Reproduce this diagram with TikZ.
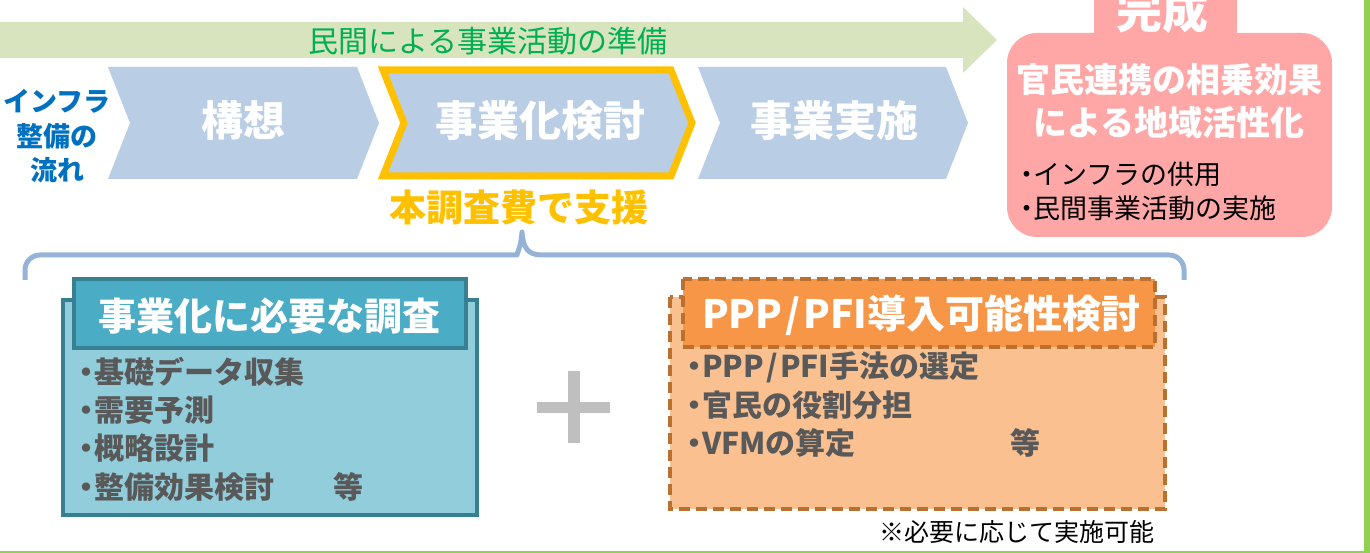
\documentclass[tikz,border=0pt]{standalone}
\usepackage{fontspec}
\setmainfont{Noto Sans CJK JP}
\definecolor{arrowgreen}{RGB}{215,228,189}
\definecolor{textgreen}{RGB}{0,176,80}
\definecolor{chev}{RGB}{185,205,229}
\definecolor{yel}{RGB}{255,192,0}
\definecolor{flowblue}{RGB}{0,112,192}
\definecolor{pinkbox}{RGB}{255,167,167}
\definecolor{bracec}{RGB}{149,179,215}
\definecolor{tealb}{RGB}{55,128,145}
\definecolor{tealtab}{RGB}{75,172,198}
\definecolor{tealfill}{RGB}{146,205,220}
\definecolor{orgfill}{RGB}{250,192,144}
\definecolor{orgtab}{RGB}{247,150,70}
\definecolor{orgb}{RGB}{185,112,48}
\definecolor{grayt}{RGB}{89,89,89}
\definecolor{plusg}{RGB}{191,191,191}
\definecolor{frameg}{RGB}{146,208,80}
\newcommand\myfs[1]{\fontsize{#1}{#1}\selectfont}
\newcommand\bul{\makebox[0.5em][c]{・}}
\newcommand\sla{\kern0.08em/\kern0.08em}
\tikzset{
  txt/.style={inner sep=0pt, outer sep=0pt},
  chevtxt/.style={txt, text=white, font=\myfs{42}\bfseries},
  chevbox/.style={fill=chev, draw=none},
  bluebul/.style={txt, anchor=west, text=grayt, font=\myfs{30}\bfseries},
  pinkbul/.style={txt, anchor=west, text=black, font=\myfs{27}},
  tealbox/.style={draw=tealb, line width=4pt, line join=miter},
  orgbox/.style={draw=orgb, line width=4.5pt, dash pattern=on 11pt off 6pt},
}
\begin{document}
\begin{tikzpicture}[x=1pt,y=-1pt]
\useasboundingbox (0,0) rectangle (1370,553);
\clip (0,0) rectangle (1370,553);
% green frame
\draw[frameg, line width=6pt] (1367,-5) -- (1367,554) (-5,554) -- (1370,554);
% big green arrow
\fill[arrowgreen] (0,22) -- (963,22) -- (963,7) -- (997,40) -- (963,73) -- (963,58) -- (0,58) -- cycle;
\node[txt, text=textgreen, font=\myfs{30}] (prep) at (488,41) {民間による事業活動の準備};
% flow label
\node[txt, text=flowblue, font=\myfs{27}\bfseries] (fl1) at (57,101) {インフラ};
\node[txt, text=flowblue, font=\myfs{27}\bfseries] (fl2) at (57,136) {整備の};
\node[txt, text=flowblue, font=\myfs{27}\bfseries] (fl3) at (57,170) {流れ};
% chevrons
\fill[chevbox] (108,67) -- (357,67) -- (379,123) -- (357,179) -- (108,179) -- (130,123) -- cycle;
\node[chevtxt] (c1) at (243,121) {構想};
\filldraw[chevbox, draw=yel, line width=7pt, line join=miter] (383,70) -- (671,70) -- (692,123) -- (671,176) -- (383,176) -- (404,123) -- cycle;
\node[chevtxt] (c2) at (540,121) {事業化検討};
\fill[chevbox] (698,67) -- (946,67) -- (968,123) -- (946,179) -- (698,179) -- (720,123) -- cycle;
\node[chevtxt] (c3) at (834,121) {事業実施};
\node[txt, text=yel, font=\myfs{37}\bfseries] (support) at (519,208) {本調査費で支援};
% completion box
\fill[pinkbox] (1094,-20) rectangle (1237,40);
\fill[pinkbox, rounded corners=30pt] (1007,33) rectangle (1332,237);
\node[txt, text=white, font=\myfs{46}\bfseries] (done) at (1162,11) {完成};
\node[txt, text=white, font=\myfs{34}\bfseries] (p1) at (1169,80) {官民連携の相乗効果};
\node[txt, text=white, font=\myfs{34}\bfseries] (p2) at (1169,123) {による地域活性化};
\node[pinkbul] (p3) at (1020,174) {\bul インフラの供用};
\node[pinkbul] (p4) at (1020,208) {\bul 民間事業活動の実施};
% brace
\draw[bracec, line width=5pt, line join=round] (25,280) [rounded corners=15pt] -- (25,255) -- (502,255) [sharp corners] .. controls (516,255) and (521,248) .. (522,232) .. controls (523,248) and (528,255) .. (542,255) [rounded corners=15pt] -- (1184,255) -- (1184,280);
% teal box
\filldraw[tealbox, fill=tealfill] (63,300) rectangle (477,515);
\filldraw[tealbox, fill=tealtab] (74,279) rectangle (466,348);
\node[txt, text=white, font=\myfs{38}\bfseries] (t0) at (269,316) {事業化に必要な調査};
\node[bluebul] (t1) at (79,372) {\bul 基礎データ収集};
\node[bluebul] (t2) at (79,410) {\bul 需要予測};
\node[bluebul] (t3) at (79,448) {\bul 概略設計};
\node[bluebul] (t4) at (79,487) {\bul 整備効果検討};
\node[txt, text=grayt, font=\myfs{30}\bfseries] (t5) at (348,487) {等};
% plus
\fill[plusg] (568,371) rectangle (580,443);
\fill[plusg] (537,402) rectangle (610,413);
% orange box
\filldraw[orgbox, fill=orgfill] (670,297) rectangle (1165,509);
\filldraw[orgbox, fill=orgtab] (683,279) rectangle (1155,347);
\node[txt, anchor=west, text=white, font=\myfs{39}\bfseries] (o0) at (702,315) {PPP\sla PFI導入可能性検討};
\node[bluebul] (o1) at (687,367) {\bul PPP\sla PFI手法の選定};
\node[bluebul] (o2) at (687,405) {\bul 官民の役割分担};
\node[bluebul] (o3) at (687,443) {\bul VFMの算定};
\node[txt, text=grayt, font=\myfs{30}\bfseries] (o4) at (1025,443) {等};
\node[txt, text=black, font=\myfs{25}] (note) at (1017,532) {※必要に応じて実施可能};
\end{tikzpicture}
\end{document}
